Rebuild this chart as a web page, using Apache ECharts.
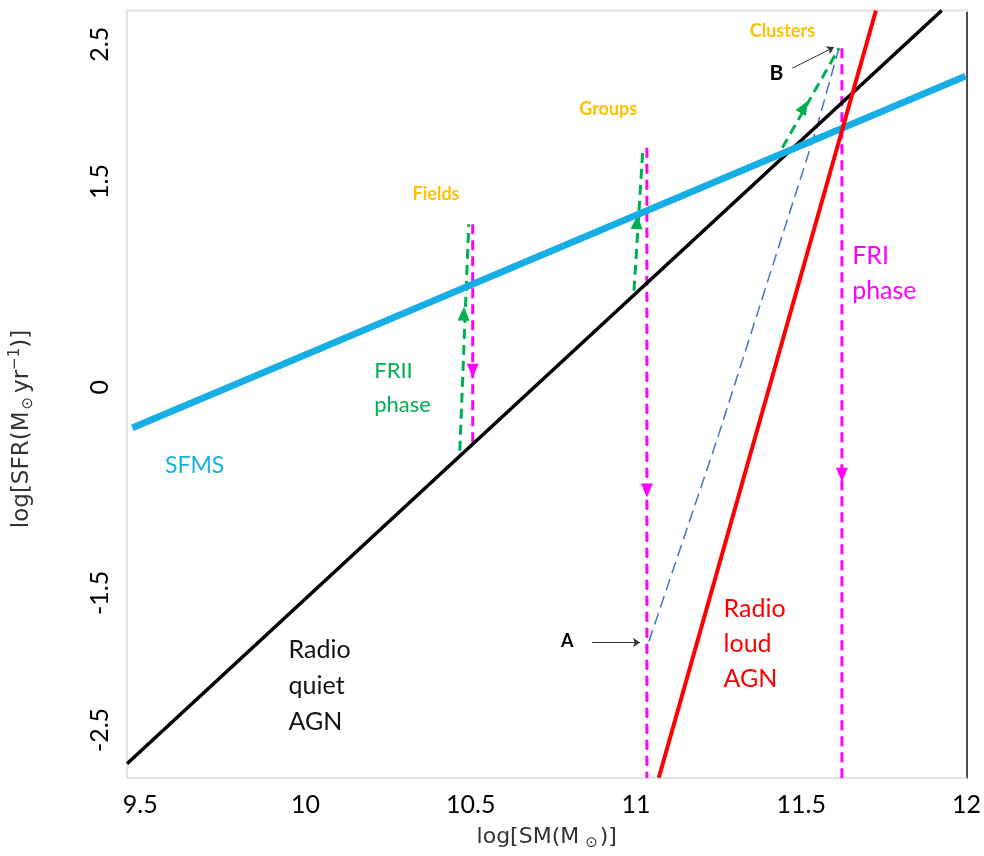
<!DOCTYPE html>
<html><head><meta charset="utf-8">
<script src="https://cdn.jsdelivr.net/npm/echarts@6/dist/echarts.min.js"></script>
<style>html,body{margin:0;padding:0;background:#fff}#c{width:984px;height:856px}</style>
</head><body><div id="c"></div>
<script>
// ---- data ----
const xTicks = [9.5, 10, 10.5, 11, 11.5, 12];
const yTicks = [-2.5, -1.5, 0, 1.5, 2.5];
const sfms = [[9.476, -0.297], [11.997, 2.268]];
const radioQuiet = [[9.46, -2.746], [11.925, 2.746]];
const radioLoud = [[11.069, -2.848], [11.726, 2.746]];
const fieldsDown = [[10.506, 1.188], [10.506, -0.42]];
const groupsDown = [[11.033, 1.746], [11.033, -2.85]];
const clustersDown = [[11.623, 2.471], [11.623, -2.85]];
const fieldsUp = [[10.467, -0.464], [10.494, 1.188]];
const groupsUp = [[10.994, 0.703], [11.021, 1.746]];
const clustersUp = [[11.443, 1.746], [11.614, 2.471]];
const pathAB = [[11.039, -1.855], [11.247, -0.37], [11.545, 1.877], [11.614, 2.471]];
const downHeads = [[10.506, 0.12], [11.033, -0.754], [11.623, -0.638]];
const upHeads = [[10.479, 0.536], [11.003, 1.203], [11.509, 2.043]];
const arrowA = [[10.867, -1.862], [11.012, -1.862]];
const arrowB = [[11.473, 2.326], [11.599, 2.478]];
const envNames = ['Fields', 'Groups', 'Clusters'];
const envPos = [[10.395, 1.406], [10.916, 2.029], [11.443, 2.594]];
const pointNames = ['A', 'B'];
const pointPos = [[10.792, -1.855], [11.425, 2.29]];
const noteNames = ['FRII\nphase', 'FRI\nphase', 'SFMS', 'Radio\nquiet\nAGN', 'Radio\nloud\nAGN'];
const notePos = [[10.208, -0.007], [11.654, 0.826], [9.575, -0.572], [9.949, -2.181], [11.265, -1.87]];

// ---- styles ----
const C_BLUE = '#17AEE6', C_RED = '#FF0000', C_MAG = '#FF00FF', C_GREEN = '#00B050', C_ORANGE = '#FFC000';
const FONT = 'Lato';
const upHeadRotate = [-2, -3, -30];
const noteStyles = [
  {color: C_GREEN, fontSize: 22, lineHeight: 34},
  {color: C_MAG, fontSize: 25, lineHeight: 35},
  {color: C_BLUE, fontSize: 23, lineHeight: 30},
  {color: '#111', fontSize: 25, lineHeight: 36},
  {color: C_RED, fontSize: 25, lineHeight: 35}
];
const pointSizes = [18, 21];

function lineS(data, color, width, type, z) {
  return {type: 'line', data: data, symbol: 'none', silent: true, z: z || 2,
    lineStyle: {color: color, width: width, type: type || 'solid', cap: 'butt'}};
}
function textS(names, pos, labelFn, position) {
  return {type: 'scatter', silent: true, z: 10, symbolSize: 0,
    itemStyle: {color: 'rgba(255,255,255,0)', opacity: 1},
    data: names.map((n, i) => ({name: n, value: pos[i],
      label: Object.assign({show: true, formatter: '{b}', position: position, distance: 0, opacity: 1,
        fontFamily: FONT, align: position === 'right' ? 'left' : 'center', verticalAlign: 'middle'}, labelFn(i))}))
  };
}

const chart = echarts.init(document.getElementById('c'));
chart.setOption({
  animation: false,
  backgroundColor: '#fff',
  grid: {left: 125, right: 16, top: 10, bottom: 74},
  xAxis: [{
    type: 'value', min: 9.46, max: 12.0, position: 'bottom',
    axisLine: {show: true, onZero: false, lineStyle: {color: '#d9d9d9', width: 1.5}},
    axisTick: {show: false}, splitLine: {show: false},
    axisLabel: {customValues: xTicks, color: '#000', fontFamily: FONT, fontSize: 25, margin: 14,
      formatter: v => String(v)},
    name: 'log[SM(M{s|⊙})]', nameLocation: 'middle', nameGap: 46,
    nameTextStyle: {color: '#333', fontFamily: 'DejaVu Sans', fontSize: 22,
      rich: {s: {fontFamily: 'DejaVu Sans', fontSize: 15, color: '#333', padding: [12, 2, 0, 6]}}}
  }, {
    type: 'value', min: 9.46, max: 12.0, position: 'top',
    axisLine: {show: true, onZero: false, lineStyle: {color: '#e8e8e8', width: 3}},
    axisTick: {show: false}, axisLabel: {show: false}, splitLine: {show: false}
  }],
  yAxis: [{
    type: 'value', min: -2.85, max: 2.75,
    axisLine: {show: true, onZero: false, lineStyle: {color: '#d9d9d9', width: 1.5}},
    axisTick: {show: false}, splitLine: {show: false},
    axisLabel: {customValues: yTicks, rotate: 90, color: '#000', fontFamily: FONT, fontSize: 25, margin: 15,
      formatter: v => String(v)},
    name: 'log[SFR(M{s|⊙}yr{p|−1})]', nameLocation: 'middle', nameGap: 90, nameRotate: 90,
    nameTextStyle: {color: '#333', fontFamily: 'DejaVu Sans', fontSize: 23, padding: [0, 70, 0, 0],
      rich: {s: {fontFamily: 'DejaVu Sans', fontSize: 15, color: '#333', padding: [12, 4, 0, 2]},
             p: {fontFamily: 'DejaVu Sans', fontSize: 15, color: '#333', padding: [0, 0, 14, 0]}}}
  }, {
    type: 'value', min: -2.85, max: 2.75, position: 'right',
    axisLine: {show: true, onZero: false, lineStyle: {color: '#111', width: 1.5}},
    axisTick: {show: false}, axisLabel: {show: false}, splitLine: {show: false}
  }],
  series: [
    lineS(pathAB, '#4472C4', 1.5, [12, 6], 2),
    lineS(fieldsDown, C_MAG, 3, [10, 6], 3),
    lineS(groupsDown, C_MAG, 3, [10, 6], 3),
    lineS(clustersDown, C_MAG, 3, [10, 6], 3),
    lineS(fieldsUp, C_GREEN, 3, [10, 6], 3),
    lineS(groupsUp, C_GREEN, 3, [10, 6], 3),
    lineS(clustersUp, C_GREEN, 3, [10, 6], 3),
    lineS(radioQuiet, '#000', 3.5, 'solid', 4),
    lineS(sfms, C_BLUE, 7, 'solid', 5),
    lineS(radioLoud, C_RED, 4, 'solid', 6),
    {type: 'scatter', silent: true, z: 4, symbol: 'triangle', symbolSize: [12, 14], symbolRotate: 180,
      itemStyle: {color: C_MAG, opacity: 1}, data: downHeads},
    {type: 'scatter', silent: true, z: 4, symbol: 'triangle', symbolSize: [12, 14],
      itemStyle: {color: C_GREEN, opacity: 1},
      data: upHeads.map((p, i) => ({value: p, symbolRotate: upHeadRotate[i]}))},
    {type: 'lines', coordinateSystem: 'cartesian2d', silent: true, z: 7,
      symbol: ['none', 'arrow'], symbolSize: 7,
      lineStyle: {color: '#333', width: 1, curveness: 0, opacity: 1},
      data: [{coords: arrowA}, {coords: arrowB}]},
    textS(envNames, envPos, i => ({color: C_ORANGE, fontSize: 18, fontWeight: 'bold'}), 'inside'),
    textS(pointNames, pointPos, i => ({color: '#000', fontSize: pointSizes[i], fontWeight: 'bold'}), 'inside'),
    textS(noteNames, notePos, i => noteStyles[i], 'right')
  ]
});
</script>
</body></html>
